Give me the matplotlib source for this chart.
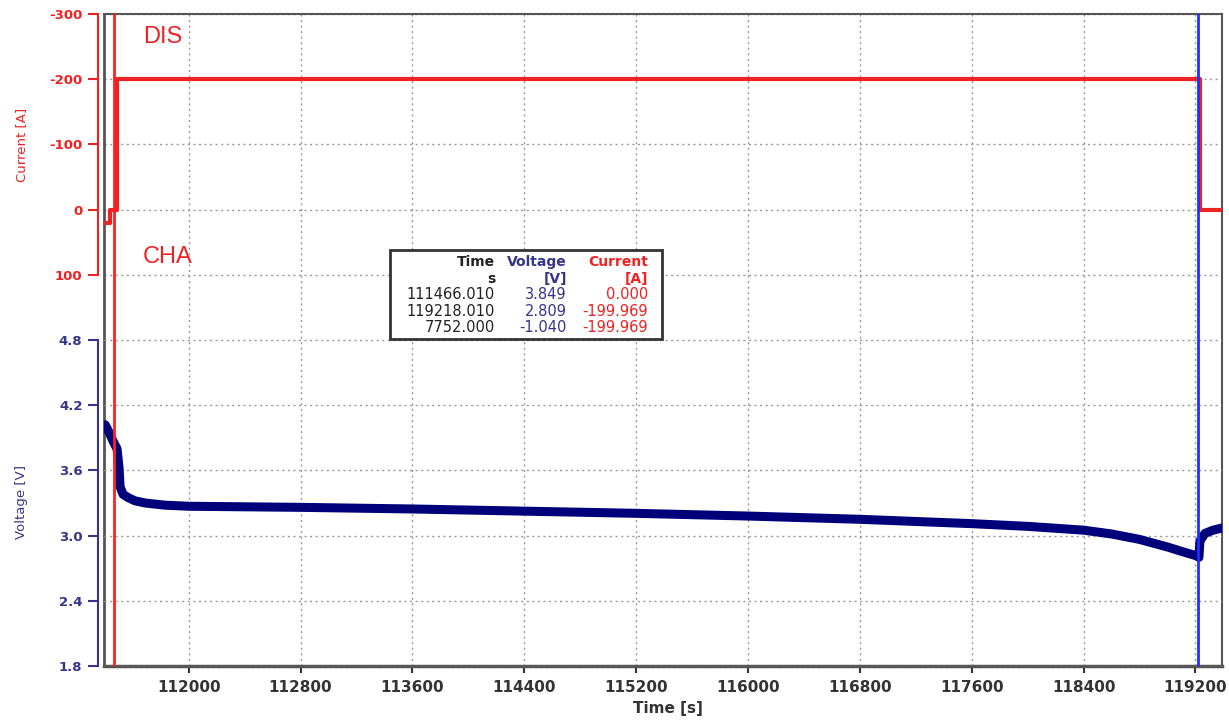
import numpy as np
import matplotlib
matplotlib.use("Agg")
import matplotlib.pyplot as plt
from matplotlib.patches import Rectangle

plt.rcParams['axes.unicode_minus'] = False
plt.rcParams['font.family'] = ['DejaVu Sans']

# current step profile [A] (negative = discharge)
cur_t = [111394, 111437, 111487, 119230, 119390]
cur_a = [20, 0, -200, 0, 0]

# cell voltage [V]
volt_t = [111402, 111423, 111466, 111487, 111502, 111509, 111530, 111566, 111616,
          111688, 111831, 112000, 112800, 113600, 114400, 115200, 116000, 116800,
          117600, 118000, 118400, 118600, 118800, 119000, 119100, 119218, 119225,
          119232, 119268, 119326, 119390]
volt_v = [4.02, 3.97, 3.85, 3.80, 3.62, 3.45, 3.38, 3.35, 3.32,
          3.30, 3.28, 3.27, 3.26, 3.245, 3.225, 3.205, 3.18, 3.15,
          3.11, 3.085, 3.05, 3.015, 2.965, 2.895, 2.855, 2.81, 2.80,
          2.95, 3.02, 3.05, 3.07]

# cursor table
tab_time = [111466.010, 119218.010, 7752.000]
tab_volt = [3.849, 2.809, -1.040]
tab_curr = [0.000, -199.969, -199.969]

cur_ticks = [-300, -200, -100, 0, 100]
volt_ticks = [1.8, 2.4, 3.0, 3.6, 4.2, 4.8]
time_ticks = list(range(112000, 119201, 800))

RED = '#ee2222'
NAVY = '#00007a'
VLAB = '#35358a'
BLUE = '#2030ff'
GRID = dict(linestyle=(0, (1.5, 2.5)), color='#999999', linewidth=1)

W, H = 1229, 721
fig = plt.figure(figsize=(W / 100, H / 100), dpi=100)
ax1 = fig.add_axes([104 / W, 55 / H, 1118 / W, 652 / H])
ax2 = ax1.twinx()

# current axis (top half of the left scale)
ax1.plot(cur_t, cur_a, drawstyle='steps-post', color=RED, lw=3, zorder=3)
ax1.set_xlim(111394, 119390)
ax1.set_ylim(700, -300)
ax1.set_yticks(cur_ticks)
ax1.set_yticklabels([str(v) for v in cur_ticks])
ax1.set_xticks(time_ticks)
ax1.set_xticklabels([str(v) for v in time_ticks])
ax1.grid(True, **GRID)
ax1.set_axisbelow(True)

for s in ['top', 'right', 'bottom']:
    ax1.spines[s].set_color('#555555')
    ax1.spines[s].set_linewidth(1.5)
ax1.spines['bottom'].set_linewidth(2.5)
ax1.spines['left'].set_position(('outward', 4.5))
ax1.spines['left'].set_bounds(-300, 100)
ax1.spines['left'].set_color(RED)
ax1.spines['left'].set_linewidth(1.5)
ax1.plot([0, 0], [0, 1], transform=ax1.transAxes, color='#555555', lw=2, clip_on=False)

ax1.tick_params(axis='y', colors=RED, length=7, width=1.5, labelsize=9.5, pad=4)
for lab in ax1.get_yticklabels():
    lab.set_fontweight('bold')
ax1.tick_params(axis='x', colors='#333333', length=5, width=1.5, labelsize=11, pad=5)
for lab in ax1.get_xticklabels():
    lab.set_fontweight('bold')

ax1.set_ylabel('Current [A]', color=RED, fontsize=9.5)
ax1.yaxis.set_label_coords(-0.068, 0.799)
ax1.set_xlabel('Time [s]', fontsize=11, fontweight='bold', color='#333333')
ax1.xaxis.set_label_coords(0.5045, -0.054)

# voltage axis (bottom half of the left scale)
ax2.plot(volt_t, volt_v, color=NAVY, lw=6.5, solid_capstyle='round',
         solid_joinstyle='round', zorder=3)
ax2.set_ylim(1.8, 7.8)
ax2.yaxis.set_ticks_position('left')
ax2.yaxis.set_label_position('left')
ax2.set_yticks(volt_ticks)
ax2.set_yticklabels(['%.1f' % v for v in volt_ticks])
ax2.grid(True, axis='y', **GRID)
for s in ['top', 'right', 'bottom']:
    ax2.spines[s].set_visible(False)
ax2.spines['left'].set_visible(True)
ax2.spines['left'].set_position(('outward', 4.5))
ax2.spines['left'].set_bounds(1.8, 4.8)
ax2.spines['left'].set_color(VLAB)
ax2.spines['left'].set_linewidth(1.5)
ax2.tick_params(axis='y', colors=VLAB, length=7, width=1.5, labelsize=9.5, pad=4)
for lab in ax2.get_yticklabels():
    lab.set_fontweight('bold')
ax2.set_ylabel('Voltage [V]', color=VLAB, fontsize=9.5)
ax2.yaxis.set_label_coords(-0.068, 0.2515)

# cursors
ax2.axvline(tab_time[0], color='#ff2020', lw=2, zorder=4)
ax2.axvline(tab_time[1], color=BLUE, lw=2, zorder=4)

ax1.text(0.035, 0.965, 'DIS', transform=ax1.transAxes, color=RED, fontsize=17,
         family='Liberation Sans', va='center', ha='left')
ax1.text(0.035, 0.627, 'CHA', transform=ax1.transAxes, color=RED, fontsize=17,
         family='Liberation Sans', va='center', ha='left')

# cursor value box
fig.add_artist(Rectangle((390 / W, 1 - 339 / H), 272 / W, 89 / H, transform=fig.transFigure,
                         facecolor='white', edgecolor='#333333', lw=2, zorder=5))
cols = [(495, '#222222'), (567, VLAB), (648, RED)]
heads = [('Time', 's'), ('Voltage', '[V]'), ('Current', '[A]')]
rows_y = [262, 279, 294, 311, 328]
for (cx, c), (h1, h2) in zip(cols, heads):
    fig.text(cx / W, 1 - rows_y[0] / H, h1, color=c, fontsize=10, fontweight='bold',
             ha='right', va='center', zorder=6)
    fig.text(cx / W, 1 - rows_y[1] / H, h2, color=c, fontsize=10, fontweight='bold',
             ha='right', va='center', zorder=6)
for k in range(3):
    y = 1 - rows_y[k + 2] / H
    fig.text(cols[0][0] / W, y, '%.3f' % tab_time[k], color=cols[0][1], fontsize=10.5,
             ha='right', va='center', zorder=6)
    fig.text(cols[1][0] / W, y, '%.3f' % tab_volt[k], color=cols[1][1], fontsize=10.5,
             ha='right', va='center', zorder=6)
    fig.text(cols[2][0] / W, y, '%.3f' % tab_curr[k], color=cols[2][1], fontsize=10.5,
             ha='right', va='center', zorder=6)

fig.savefig('out.png', dpi=100)
